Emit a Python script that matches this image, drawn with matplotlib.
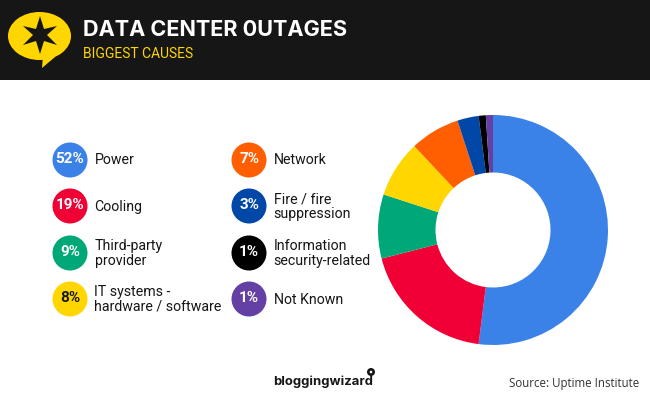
import matplotlib
matplotlib.use("Agg")
import matplotlib.pyplot as plt
from matplotlib.patches import Circle, Ellipse, Polygon, Rectangle

# chart data
labels = [
    "Power",
    "Cooling",
    "Third-party\nprovider",
    "IT systems -\nhardware / software",
    "Network",
    "Fire / fire\nsuppression",
    "Information\nsecurity-related",
    "Not Known",
]
percent_text = ["52%", "19%", "9%", "8%", "7%", "3%", "1%", "1%"]
values = [52, 19, 9, 8, 7, 3, 1, 1]
colors = ["#3B82E8", "#F00034", "#00A878", "#FFD600", "#FF5F00", "#0047A8", "#000000", "#6440A5"]
percent_colors = ["white", "white", "white", "#161616", "white", "white", "white", "white"]

title = "DATA CENTER 0UTAGES"
subtitle = "BIGGEST CAUSES"
source = "Source: Uptime Institute"
brand = "bloggingwizard"

WIDTH, HEIGHT = 650, 400
DARK = "#161616"
YELLOW = "#FFD600"

fig = plt.figure(figsize=(WIDTH / 100, HEIGHT / 100), dpi=100, facecolor="white")

# page layer in pixel coordinates, y going down like the picture
page = fig.add_axes([0, 0, 1, 1])
page.set_xlim(0, WIDTH)
page.set_ylim(HEIGHT, 0)
page.axis("off")

page.add_patch(Rectangle((0, 0), WIDTH, 80, color=DARK, lw=0))

# speech bubble logo
page.add_patch(Ellipse((39.5, 36), 63, 48, color=YELLOW, lw=0))
page.add_patch(Polygon([(43, 56), (42, 68), (55, 57)], color=YELLOW, lw=0))
page.add_patch(Polygon(
    [(40, 16), (44, 29), (57, 26), (47, 35), (57, 45), (44, 41), (40, 54),
     (36, 41), (23, 45), (33, 35), (23, 26), (36, 29)],
    color=DARK, lw=0,
))

page.text(83, 30, title, color="white", fontsize=15.6, fontweight="bold",
          family="Inter", va="center", ha="left")
page.text(83, 54, subtitle, color=YELLOW, fontsize=10, family="Roboto",
          va="center", ha="left")

# legend, two columns of four
col_x = [70, 249]
row_y = [160, 206, 253, 299]
for i, label in enumerate(labels):
    x = col_x[i // 4]
    y = row_y[i % 4]
    page.add_patch(Circle((x, y), 17.5, color=colors[i], lw=0))
    page.text(x, y - 1, percent_text[i], color=percent_colors[i], fontsize=11,
              fontweight="bold", family="Roboto", ha="center", va="center")
    page.text(x + 24.5, y + 0.5, label, color="#161616", fontsize=10.2, family="Roboto",
              ha="left", va="center", linespacing=1.05)

# footer
page.text(273, 382, brand, color="#161616", fontsize=9.4, fontweight="bold",
          family="Inter", ha="left", va="center")
page.add_patch(Circle((371, 372), 4, color="#161616", lw=0))
page.add_patch(Circle((371, 372), 1.3, color="white", lw=0))
page.text(639, 384, source, color="#333333", fontsize=8.3, family="Open Sans",
          ha="right", va="center")

# donut, centre (493, 230) and radius 115 px
pie_ax = fig.add_axes([(493 - 115) / WIDTH, 1 - (230 + 115) / HEIGHT, 230 / WIDTH, 230 / HEIGHT])
pie_ax.pie(
    values,
    colors=colors,
    startangle=90,
    counterclock=False,
    radius=1.0,
    wedgeprops={"width": 0.5, "linewidth": 0},
)
pie_ax.set_xlim(-1, 1)
pie_ax.set_ylim(-1, 1)

fig.savefig("out.png", dpi=100)
